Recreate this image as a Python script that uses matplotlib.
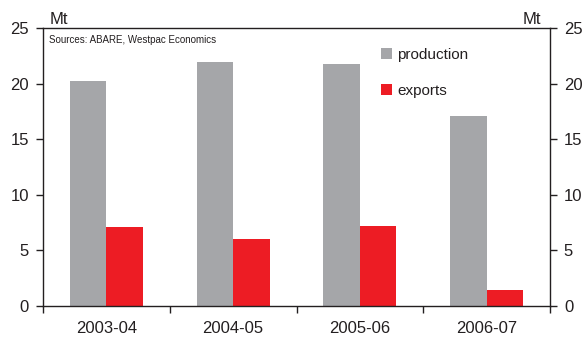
import numpy as np
import matplotlib
matplotlib.use("Agg")
import matplotlib.pyplot as plt

plt.rcParams['font.family'] = ['Liberation Sans', 'DejaVu Sans']

# coal production vs exports, million tonnes
years = ['2003-04', '2004-05', '2005-06', '2006-07']
production = [20.2, 21.9, 21.8, 17.1]
exports = [7.1, 6.0, 7.2, 1.4]

grey = '#a5a6a9'
red = '#ed1c24'
txt = '#231f20'

fig = plt.figure(figsize=(5.84, 3.41), dpi=100)
ax = fig.add_axes([43/584, 1-306/341, 507/584, 278/341])

x = np.arange(len(years))
w = 0.288
ax.bar(x - w/2, production, w, color=grey, label='production')
ax.bar(x + w/2, exports, w, color=red, label='exports')

ax.set_xlim(-0.5, len(years) - 0.5)
ax.set_ylim(0, 25)
ax.set_yticks([0, 5, 10, 15, 20, 25])

# category labels centred, ticks at the boundaries
ax.set_xticks(np.arange(-0.5, len(years)), minor=False)
ax.set_xticklabels([''] * (len(years) + 1))
ax.set_xticks(x, minor=True)
ax.set_xticklabels(years, minor=True)
ax.tick_params(axis='x', which='minor', length=0, pad=11, labelsize=12, labelcolor=txt)
ax.tick_params(axis='x', which='major', direction='out', length=5, width=1, color=txt)
ax.tick_params(axis='y', direction='out', length=5, width=1, color=txt,
               labelsize=12, labelcolor=txt, right=True, labelright=True, pad=5)

for s in ax.spines.values():
    s.set_color(txt)
    s.set_linewidth(1)

ax.text(0.013, 1.005, 'Mt', transform=ax.transAxes, fontsize=12, color=txt, ha='left', va='bottom')
ax.text(0.983, 1.005, 'Mt', transform=ax.transAxes, fontsize=12, color=txt, ha='right', va='bottom')
ax.text(0.012, 0.975, 'Sources: ABARE, Westpac Economics', transform=ax.transAxes,
        fontsize=7, color=txt, ha='left', va='top')

leg = ax.legend(loc='upper left', bbox_to_anchor=(0.655, 0.95), frameon=False,
                handlelength=0.7, handleheight=0.7, handletextpad=0.35,
                labelspacing=1.45, fontsize=11, borderaxespad=0)
for t in leg.get_texts():
    t.set_color(txt)

fig.savefig('out.png', dpi=100)
